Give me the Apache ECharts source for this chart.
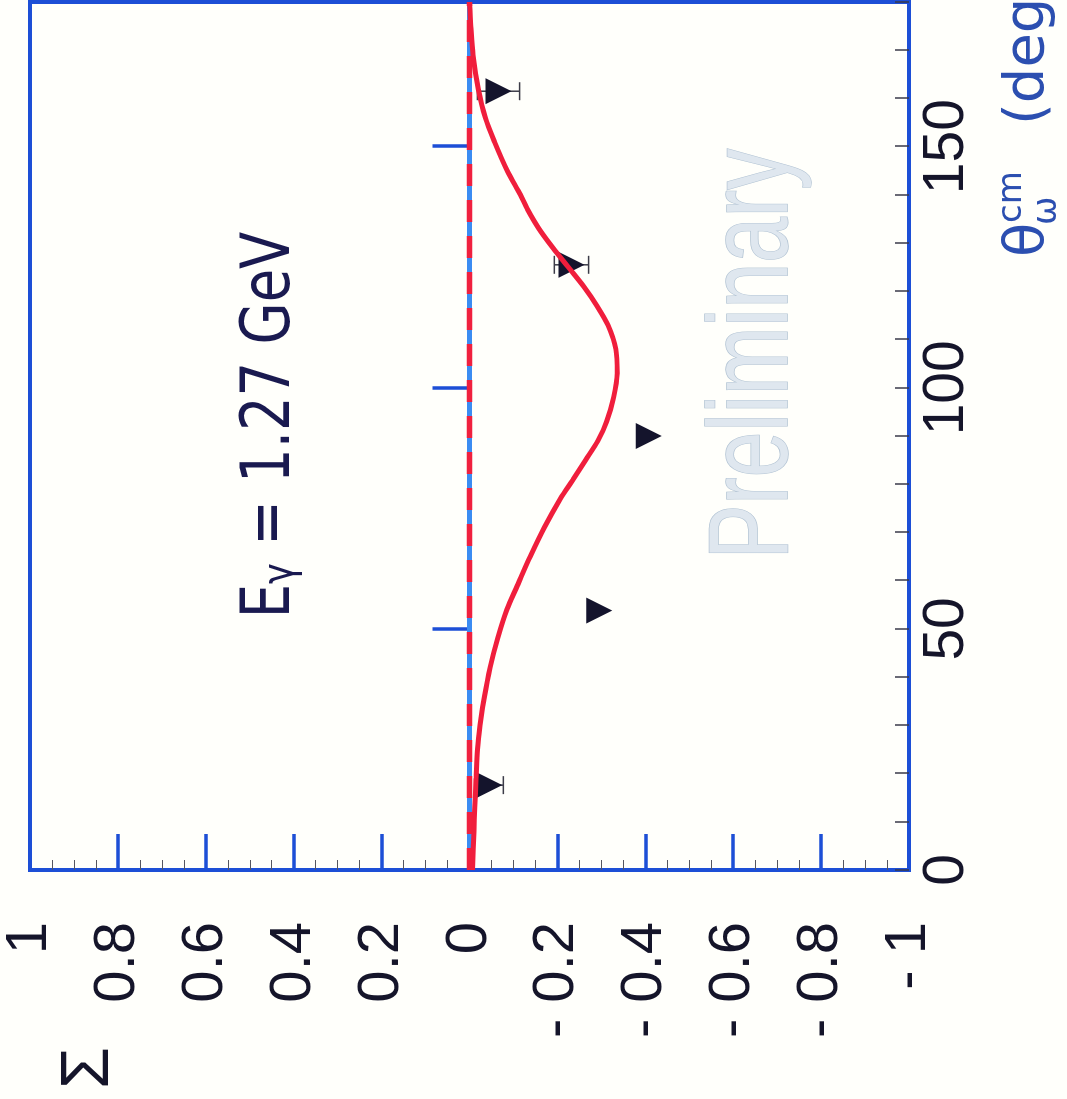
<!DOCTYPE html>
<html>
<head>
<meta charset="utf-8">
<title>Sigma vs theta, E = 1.27 GeV</title>
<script src="https://cdn.jsdelivr.net/npm/echarts@6/dist/echarts.min.js"></script>
<style>
    html, body { margin: 0; padding: 0; width: 1067px; height: 1099px; overflow: hidden; background: #fffffb; }
    /* the chart is drawn upright and then turned a quarter turn, like the scan */
    #main {
        position: absolute; left: 0; top: 0;
        width: 1099px; height: 1067px;
        transform-origin: 0 0;
        transform: translateY(1099px) rotate(-90deg);
    }
</style>
</head>
<body>
<div id="main"></div>
<script>
// measured points (theta in deg, Sigma, error; 0 = bar hidden by marker)
var thetaPts = [17.6, 53.8, 90.0, 125.5, 161.5];
var sigmaPts = [-0.045, -0.295, -0.408, -0.232, -0.066];
var sigmaErr = [0.032, 0, 0, 0.039, 0.048];

// model curve
var curveTheta = [0, 8, 13, 19, 25, 30, 36, 42, 48, 54, 59, 65, 71, 77, 81, 85, 89, 93, 98, 103,
    108, 113, 117, 121, 125, 129, 133, 137, 140, 145, 151, 156, 162, 169, 175, 180];
var curveSigma = [-0.007, -0.01, -0.012, -0.015, -0.018, -0.024, -0.034, -0.047, -0.064, -0.085, -0.109, -0.138, -0.17, -0.207, -0.236, -0.264, -0.292, -0.312, -0.328, -0.336,
    -0.333, -0.315, -0.29, -0.26, -0.225, -0.19, -0.158, -0.132, -0.116, -0.086, -0.057, -0.036, -0.02, -0.008, -0.003, 0];

// zero reference line
var zeroTheta = [0, 180];
var zeroSigma = [0, 0];

var sigmaTicks = [-1, -0.8, -0.6, -0.4, -0.2, 0, 0.2, 0.4, 0.6, 0.8, 1];
var thetaTicks = [0, 50, 100, 150];

var frameBlue = '#1d4fd6';
var labelFont = "'Liberation Sans', Arial, sans-serif";

function pairs(xs, ys) {
    var out = [];
    for (var i = 0; i < xs.length; i++) out.push([xs[i], ys[i]]);
    return out;
}

var myChart = echarts.init(document.getElementById('main'));

var option = {
    backgroundColor: '#fffffb',
    animation: false,
    grid: {
        left: 229,
        right: 2,
        top: 30,
        bottom: 158,
        show: true,
        borderColor: frameBlue,
        borderWidth: 4,
        backgroundColor: 'transparent'
    },
    xAxis: [{
        // theta, big ticks + labels
        type: 'value',
        min: 0,
        max: 180,
        interval: 50,
        position: 'bottom',
        axisLine: { show: false },
        splitLine: { show: false },
        axisTick: {
            inside: true,
            length: 37,
            lineStyle: { color: frameBlue, width: 3.5 }
        },
        axisLabel: {
            margin: 10,
            fontSize: 57,
            fontFamily: labelFont,
            color: '#15152a',
            showMaxLabel: false,
            formatter: function (v) {
                return thetaTicks.indexOf(v) >= 0 ? String(v) : '';
            }
        }
    }, {
        // theta, small ticks every 10 deg
        type: 'value',
        min: 0,
        max: 180,
        interval: 10,
        position: 'bottom',
        axisLine: { show: false },
        splitLine: { show: false },
        axisLabel: { show: false },
        axisTick: {
            inside: true,
            length: 14,
            lineStyle: { color: '#3a3a4a', width: 1.5 }
        }
    }],
    yAxis: {
        type: 'value',
        min: -1,
        max: 1,
        interval: 0.2,
        position: 'left',
        axisLine: { show: false },
        splitLine: { show: false },
        axisTick: {
            inside: true,
            length: 36,
            lineStyle: { color: frameBlue, width: 3.5 }
        },
        minorTick: {
            show: true,
            splitNumber: 4,
            length: 10,
            lineStyle: { color: '#555560', width: 1 }
        },
        axisLabel: {
            margin: 52,
            fontSize: 58,
            fontFamily: labelFont,
            color: '#15152a',
            formatter: function (v) {
                var r = Math.round(v * 10) / 10;
                if (sigmaTicks.indexOf(r) < 0) return '';
                if (r === 0) return '0';
                return (r < 0 ? '- ' : '') + String(Math.abs(r));
            }
        }
    },
    series: [{
            type: 'line',
            data: pairs(zeroTheta, zeroSigma),
            symbol: 'none',
            lineStyle: { color: '#3b8cf2', width: 5 },
            z: 2
        },
        {
            type: 'line',
            data: pairs(zeroTheta, zeroSigma),
            symbol: 'none',
            lineStyle: { color: '#f0203e', width: 5.5, type: [22, 14] },
            z: 3
        },
        {
            // error bars
            type: 'custom',
            data: thetaPts.map(function (t, i) {
                return [t, sigmaPts[i] - sigmaErr[i], sigmaPts[i] + sigmaErr[i], sigmaErr[i]];
            }),
            renderItem: function (params, api) {
                if (!api.value(3)) return null;
                var lo = api.coord([api.value(0), api.value(1)]);
                var hi = api.coord([api.value(0), api.value(2)]);
                var cap = 9;
                var st = { stroke: '#3c3c48', lineWidth: 1.5 };
                return {
                    type: 'group',
                    children: [
                        { type: 'line', shape: { x1: lo[0], y1: lo[1], x2: hi[0], y2: hi[1] }, style: st },
                        { type: 'line', shape: { x1: lo[0] - cap, y1: lo[1], x2: lo[0] + cap, y2: lo[1] }, style: st },
                        { type: 'line', shape: { x1: hi[0] - cap, y1: hi[1], x2: hi[0] + cap, y2: hi[1] }, style: st }
                    ]
                };
            },
            z: 4
        },
        {
            type: 'scatter',
            data: pairs(thetaPts, sigmaPts),
            symbol: 'triangle',
            symbolRotate: 180,
            symbolSize: 26,
            itemStyle: { color: '#14142c', opacity: 1 },
            z: 5
        },
        {
            type: 'line',
            data: pairs(curveTheta, curveSigma),
            smooth: 0.3,
            symbol: 'none',
            lineStyle: { color: '#f01e3c', width: 5 },
            z: 6
        }
    ],
    graphic: [{
            type: 'text',
            x: 31,
            y: 89,
            style: {
                text: 'Σ',
                fontSize: 68,
                fontFamily: labelFont,
                fill: '#15152a',
                textAlign: 'center',
                textVerticalAlign: 'middle'
            }
        },
        {
            type: 'text',
            x: 674,
            y: 271,
            scaleX: 0.8,
            style: {
                text: '{a|E}{b|γ}{a| = 1.27 GeV}',
                textAlign: 'center',
                textVerticalAlign: 'middle',
                rich: {
                    a: { fontSize: 68, fontFamily: "'DejaVu Sans'", fill: '#1a1a50' },
                    b: { fontSize: 44, fontFamily: "'DejaVu Sans'", fill: '#1a1a50', padding: [22, 0, 0, 0] }
                }
            }
        },
        {
            type: 'text',
            x: 745,
            y: 756,
            scaleX: 0.72,
            z: 1,
            style: {
                text: 'Preliminary',
                fontSize: 114,
                fontFamily: labelFont,
                fill: '#dfe7ef',
                stroke: '#b3c4d4',
                lineWidth: 1.5,
                textAlign: 'center',
                textVerticalAlign: 'middle'
            }
        },
        {
            type: 'text',
            x: 842,
            y: 1028,
            style: { text: 'θ', fontSize: 56, fontFamily: "'DejaVu Sans'", fill: '#2c4fb0', textVerticalAlign: 'middle' }
        },
        {
            type: 'text',
            x: 876,
            y: 1012,
            style: { text: 'cm', fontSize: 34, fontFamily: "'DejaVu Sans'", fill: '#2c4fb0', textVerticalAlign: 'middle' }
        },
        {
            type: 'text',
            x: 874,
            y: 1047,
            style: { text: 'ω', fontSize: 34, fontFamily: "'DejaVu Sans'", fill: '#2c4fb0', textVerticalAlign: 'middle' }
        },
        {
            type: 'text',
            x: 974,
            y: 1028,
            style: { text: '(deg)', fontSize: 56, fontFamily: "'DejaVu Sans'", fill: '#2c4fb0', textVerticalAlign: 'middle' }
        }
    ]
};

myChart.setOption(option);
</script>
</body>
</html>
